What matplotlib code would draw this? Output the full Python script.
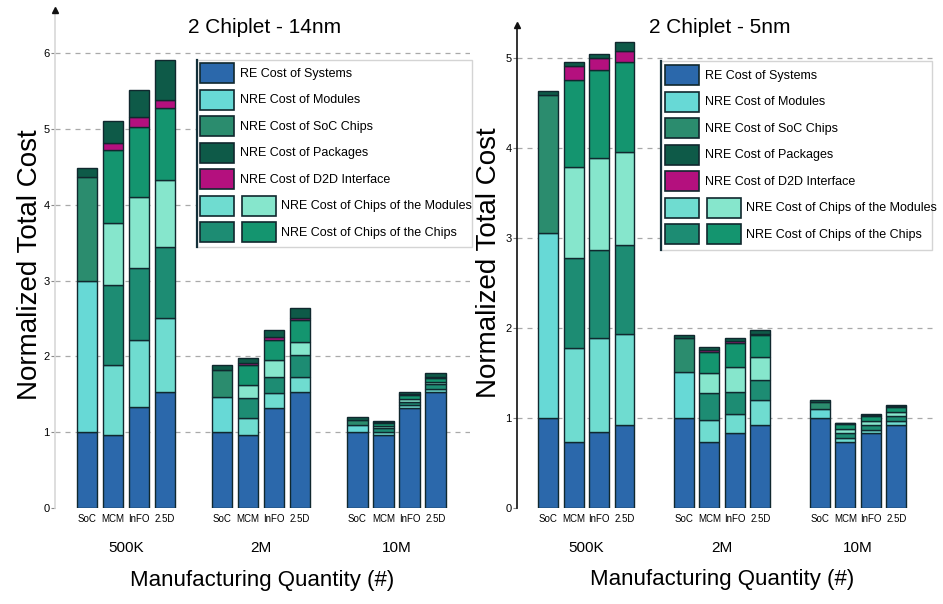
import matplotlib
matplotlib.use("Agg")
import numpy as np
import matplotlib.pyplot as plt
from matplotlib.patches import Patch, Rectangle
from matplotlib.lines import Line2D
from matplotlib.legend_handler import HandlerTuple
from matplotlib import transforms

# ---------------------------------------------------------------- data
quantities = ["500K", "2M", "10M"]
packagings = ["SoC", "MCM", "InFO", "2.5D"]

# 2 chiplets, 14nm  (bars ordered 500K: SoC MCM InFO 2.5D, then 2M, then 10M)
re_14 = [1.00, 0.96, 1.33, 1.53, 1.00, 0.96, 1.32, 1.53, 1.00, 0.96, 1.32, 1.53]
soc_mod_14 = [2.00, 0, 0, 0, 0.47, 0, 0, 0, 0.09, 0, 0, 0]
soc_chip_14 = [1.37, 0, 0, 0, 0.35, 0, 0, 0, 0.07, 0, 0, 0]
mod_a_14 = [0, 0.93, 0.89, 0.98, 0, 0.23, 0.20, 0.20, 0, 0.04, 0.04, 0.04]
chip_a_14 = [0, 1.05, 0.95, 0.93, 0, 0.26, 0.21, 0.29, 0, 0.05, 0.04, 0.06]
mod_b_14 = [0, 0.82, 0.93, 0.89, 0, 0.17, 0.22, 0.17, 0, 0.03, 0.04, 0.03]
chip_b_14 = [0, 0.96, 0.93, 0.95, 0, 0.27, 0.27, 0.29, 0, 0.04, 0.05, 0.06]
d2d_14 = [0, 0.10, 0.13, 0.10, 0, 0.02, 0.03, 0.03, 0, 0.01, 0.01, 0.01]
pkg_14 = [0.12, 0.28, 0.35, 0.53, 0.07, 0.07, 0.10, 0.13, 0.04, 0.02, 0.03, 0.05]

# 2 chiplets, 5nm
re_5 = [1.00, 0.73, 0.84, 0.92, 1.00, 0.73, 0.83, 0.92, 1.00, 0.73, 0.83, 0.92]
soc_mod_5 = [2.06, 0, 0, 0, 0.51, 0, 0, 0, 0.10, 0, 0, 0]
soc_chip_5 = [1.53, 0, 0, 0, 0.38, 0, 0, 0, 0.08, 0, 0, 0]
mod_a_5 = [0, 1.05, 1.05, 1.02, 0, 0.25, 0.22, 0.28, 0, 0.05, 0.04, 0.05]
chip_a_5 = [0, 1.00, 0.98, 0.98, 0, 0.30, 0.24, 0.22, 0, 0.05, 0.05, 0.05]
mod_b_5 = [0, 1.01, 1.02, 1.04, 0, 0.22, 0.28, 0.26, 0, 0.05, 0.05, 0.05]
chip_b_5 = [0, 0.97, 0.98, 1.00, 0, 0.23, 0.26, 0.24, 0, 0.05, 0.05, 0.05]
d2d_5 = [0, 0.15, 0.13, 0.12, 0, 0.03, 0.03, 0.02, 0, 0.01, 0.01, 0.01]
pkg_5 = [0.05, 0.05, 0.05, 0.10, 0.03, 0.03, 0.03, 0.04, 0.02, 0.01, 0.01, 0.02]

legend_labels = ["RE Cost of Systems", "NRE Cost of Modules", "NRE Cost of SoC Chips",
                 "NRE Cost of Packages", "NRE Cost of D2D Interface",
                 "NRE Cost of Chips of the Modules", "NRE Cost of Chips of the Chips"]

# ---------------------------------------------------------------- style
C_RE = "#2b68ab"
C_MOD = "#67d9d6"
C_SOC = "#2b8c6e"
C_PKG = "#0e5a48"
C_D2D = "#b4107e"
C_MOD_A = "#6fdcd0"
C_MOD_B = "#86e6cc"
C_CHIP_A = "#1d8c73"
C_CHIP_B = "#14956f"
EDGE = "#10282e"
FONT = "Liberation Sans"

W, H = 943, 604
fig = plt.figure(figsize=(W / 100, H / 100), dpi=100)


def axes_px(x0, y0, x1, y1):
    return fig.add_axes([x0 / W, 1 - y1 / H, (x1 - x0) / W, (y1 - y0) / H])


def fig_xy(x, y):
    return x / W, 1 - y / H


def draw_panel(ax, title, stack, group_step, ymax, xlim, spine_color,
               title_xy, ylabel_xy, xlabel_xy, legend_box):
    xpos = np.array([g * group_step + i for g in range(len(quantities))
                     for i in range(len(packagings))], dtype=float)
    bottom = np.zeros(len(xpos))
    for values, color in stack:
        v = np.array(values, dtype=float)
        m = v > 0
        ax.bar(xpos[m], v[m], width=0.78, bottom=bottom[m], color=color,
               edgecolor=EDGE, linewidth=1.0, zorder=3)
        bottom += v

    ax.set_xlim(*xlim)
    ax.set_ylim(0, ymax)
    top = int(np.floor(ymax))
    for k in range(1, top + 1):
        ax.axhline(k, color="#a9a9a9", lw=0.9, ls=(0, (4, 4)), zorder=1)
    ax.set_yticks(range(0, top + 1))
    ax.tick_params(axis="y", labelsize=8, length=3, width=0.8, color="#888888", pad=1)
    for t in ax.get_yticklabels():
        t.set_fontfamily(FONT)

    ax.set_xticks(xpos)
    ax.set_xticklabels(packagings * len(quantities), fontsize=7, fontfamily=FONT)
    ax.tick_params(axis="x", length=0, pad=4)

    for s in ("top", "right", "bottom"):
        ax.spines[s].set_visible(False)
    ax.spines["left"].set_color(spine_color)
    ax.spines["left"].set_linewidth(1.2)
    ax.plot([0], [1], marker="^", ms=5, color="#111111", transform=ax.transAxes,
            clip_on=False, zorder=6)

    trans = transforms.blended_transform_factory(ax.transData, fig.transFigure)
    for g, q in enumerate(quantities):
        gx = xpos[g * 4:(g + 1) * 4].mean()
        ax.text(gx, 1 - 548 / H, q, transform=trans, ha="center", va="center",
                fontsize=11, fontfamily=FONT)

    ax.text(*title_xy, title, transform=ax.transAxes, ha="center", va="center",
            fontsize=15, fontfamily=FONT)
    ax.set_ylabel("Normalized Total Cost", fontsize=20, fontfamily=FONT, va="center")
    ax.yaxis.set_label_coords(*ylabel_xy)
    ax.set_xlabel("Manufacturing Quantity (#)", fontsize=16, fontfamily=FONT, va="center")
    ax.xaxis.set_label_coords(*xlabel_xy)
    ax.set_facecolor("none")

    # legend: frame, single-swatch entries, then the paired-swatch entries
    fx0, fy0, fx1, fy1, sx, sy = legend_box
    ax.add_patch(Rectangle(fig_xy(fx0, fy1), (fx1 - fx0) / W, (fy1 - fy0) / H,
                           transform=fig.transFigure, facecolor="white",
                           edgecolor="#d4d4d4", lw=1.0, zorder=4, clip_on=False))
    ax.add_line(Line2D([fx0 / W, fx0 / W], [1 - fy0 / H, 1 - fy1 / H],
                       transform=fig.transFigure, color="#14303a", lw=1.6,
                       zorder=4.5, clip_on=False))
    fs = 9
    em = fs * 100 / 72
    sw_w, sw_h, pitch = 34, 20, 26.5
    # legend patch height = em * (0.65 * handleheight + 0.245)
    hh = (sw_h / em - 0.245) / 0.65

    def patch(c):
        return Patch(facecolor=c, edgecolor=EDGE, linewidth=1.2)

    singles = [patch(C_RE), patch(C_MOD), patch(C_SOC), patch(C_PKG), patch(C_D2D)]
    leg1 = ax.legend(singles, legend_labels[:5], loc="upper left",
                     bbox_to_anchor=fig_xy(sx, sy), bbox_transform=fig.transFigure,
                     frameon=False, borderpad=0, borderaxespad=0,
                     handlelength=sw_w / em, handleheight=hh,
                     labelspacing=(pitch - sw_h) / em, handletextpad=6 / em,
                     prop={"family": FONT, "size": fs})
    leg1.set_zorder(5)
    ax.add_artist(leg1)
    pairs = [(patch(C_MOD_A), patch(C_MOD_B)), (patch(C_CHIP_A), patch(C_CHIP_B))]
    leg2 = ax.legend(pairs, legend_labels[5:], loc="upper left",
                     bbox_to_anchor=fig_xy(sx, sy + 5 * pitch), bbox_transform=fig.transFigure,
                     frameon=False, borderpad=0, borderaxespad=0,
                     handlelength=(2 * sw_w + 8) / em, handleheight=hh,
                     labelspacing=(pitch - sw_h) / em, handletextpad=5 / em,
                     handler_map={tuple: HandlerTuple(ndivide=None, pad=8 / em)},
                     prop={"family": FONT, "size": fs})
    leg2.set_zorder(5)


stack_14 = [(re_14, C_RE), (soc_mod_14, C_MOD), (soc_chip_14, C_SOC),
            (mod_a_14, C_MOD_A), (chip_a_14, C_CHIP_A), (mod_b_14, C_MOD_B),
            (chip_b_14, C_CHIP_B), (d2d_14, C_D2D), (pkg_14, C_PKG)]
stack_5 = [(re_5, C_RE), (soc_mod_5, C_MOD), (soc_chip_5, C_SOC),
           (mod_a_5, C_MOD_A), (chip_a_5, C_CHIP_A), (mod_b_5, C_MOD_B),
           (chip_b_5, C_CHIP_B), (d2d_5, C_D2D), (pkg_5, C_PKG)]

ax1 = axes_px(55, 10, 470, 508)
draw_panel(ax1, "2 Chiplet - 14nm", stack_14, 5.2, 6.57, (-1.23, 14.73), "#d8d8d8",
           title_xy=(0.505, 0.964), ylabel_xy=(-0.060, 0.489), xlabel_xy=(0.499, -0.1446),
           legend_box=(197, 60, 472, 247, 200, 63))

ax2 = axes_px(517, 25, 935, 508)
draw_panel(ax2, "2 Chiplet - 5nm", stack_5, 5.33, 5.37, (-1.22, 15.18), "#111111",
           title_xy=(0.486, 0.994), ylabel_xy=(-0.067, 0.507), xlabel_xy=(0.49, -0.149),
           legend_box=(661, 61, 932, 250, 665, 65))

fig.savefig("out.png", dpi=100)
